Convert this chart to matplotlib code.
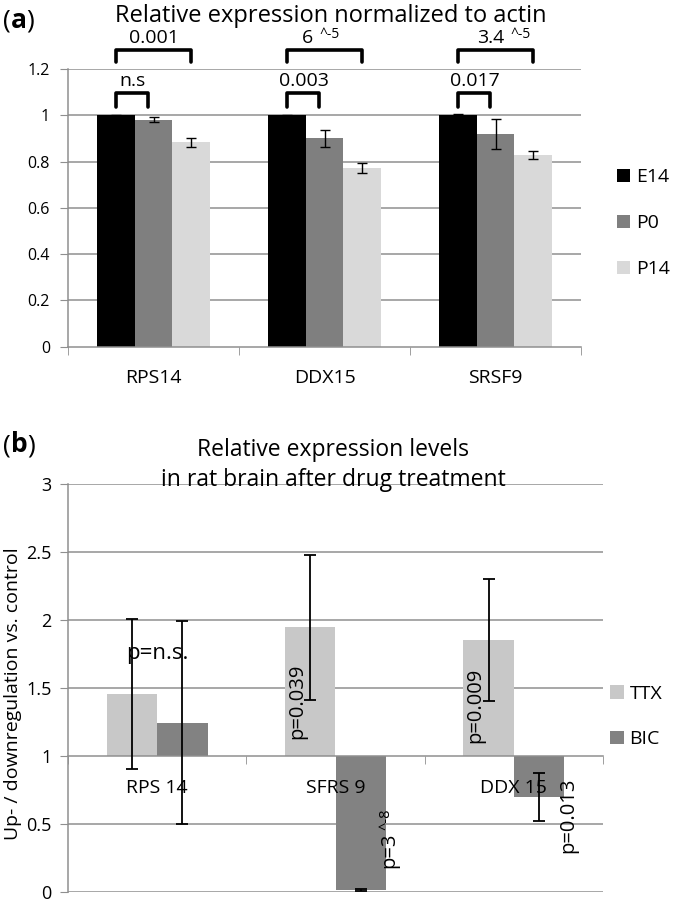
import numpy as np
import matplotlib
matplotlib.use('Agg')
import matplotlib.pyplot as plt
from matplotlib.ticker import FixedLocator, FuncFormatter

plt.rcParams['font.family'] = ['Open Sans', 'DejaVu Sans']

# ---- panel (a): relative expression normalized to actin ----
genes_a = ['RPS14', 'DDX15', 'SRSF9']
stages = ['E14', 'P0', 'P14']
e14 = [1.0, 1.0, 1.0]
e14_err = [0.002, 0.003, 0.006]
p0 = [0.98, 0.90, 0.92]
p0_err = [0.011, 0.035, 0.065]
p14 = [0.883, 0.771, 0.828]
p14_err = [0.018, 0.021, 0.016]
pval_near = ['n.s', '0.003', '0.017']     # E14 vs P0
pval_far = ['0.001', '6', '3.4']          # E14 vs P14
pval_far_exp = ['', '^-5', '^-5']

# ---- panel (b): drug treatment ----
genes_b = ['RPS 14', 'SFRS 9', 'DDX 15']
treatments = ['TTX', 'BIC']
ttx = [1.455, 1.945, 1.85]
ttx_err = [0.555, 0.535, 0.45]
bic = [1.245, 0.012, 0.695]
bic_err = [0.745, 0.006, 0.175]
pval_ttx = ['p=n.s.', 'p=0.039', 'p=0.009']
pval_bic = ['', 'p=3', 'p=0.013']
pval_bic_exp = ['', '^-8', '']

W, H = 673, 905
fig = plt.figure(figsize=(W / 100, H / 100), dpi=100)


def fbox(l, t, r, b):
    return [l / W, 1 - b / H, (r - l) / W, (b - t) / H]


def fx(x):
    return x / W


def fy(y):
    return 1 - y / H


GRID = '#8f8f8f'
FS = 14

# ================= panel (a) =================
ax1 = fig.add_axes(fbox(68, 69, 581, 346.7))
x = np.arange(len(genes_a))
bw = 0.222
cols_a = ['#000000', '#7f7f7f', '#d9d9d9']
series_a = [(e14, e14_err), (p0, p0_err), (p14, p14_err)]
handles_a = []
for k, (vals, errs) in enumerate(series_a):
    xs = x + (k - 1) * bw
    b = ax1.bar(xs, vals, bw, color=cols_a[k], label=stages[k], zorder=1)
    handles_a.append(b)
    ax1.errorbar(xs, vals, yerr=errs, fmt='none', ecolor='black',
                 elinewidth=1, capsize=3.5, capthick=1, zorder=3)

ax1.set_xlim(-0.5, 2.5)
ax1.set_ylim(0, 1.2)
for yv in np.arange(0.2, 1.21, 0.2):
    ax1.axhline(yv, color=GRID, lw=1.1, zorder=0)
ax1.yaxis.set_major_locator(FixedLocator(np.arange(0, 1.21, 0.2)))
ax1.yaxis.set_major_formatter(FuncFormatter(lambda v, p: '%g' % round(v, 1)))
ax1.set_xticks(x)
ax1.set_xticklabels(genes_a)
ax1.xaxis.set_minor_locator(FixedLocator([-0.5, 0.5, 1.5, 2.5]))
ax1.tick_params(axis='x', which='major', length=0, pad=16, labelsize=FS)
ax1.tick_params(axis='x', which='minor', length=6, color=GRID, direction='out')
ax1.tick_params(axis='y', length=6, color=GRID, labelsize=11.5, pad=7)
for s in ['top', 'right']:
    ax1.spines[s].set_visible(False)
ax1.spines['left'].set_color(GRID)
ax1.spines['bottom'].set_color(GRID)
ax1.spines['left'].set_linewidth(1.1)
ax1.spines['bottom'].set_linewidth(1.1)


def bracket(ax, x0, x1, y0, y1):
    ax.plot([x0, x0, x1, x1], [y0, y1, y1, y0], color='black', lw=2.6,
            solid_joinstyle='round', solid_capstyle='round',
            clip_on=False, zorder=4)


far_dx = [0.0, -0.067, 0.05]
for i in range(len(genes_a)):
    bracket(ax1, i - bw, i - 0.03, 1.035, 1.096)
    bracket(ax1, i - bw, i + bw, 1.23, 1.282)
    ax1.text(i - 0.12, 1.15, pval_near[i], ha='center', va='center',
             fontsize=14, clip_on=False)
    if pval_far_exp[i]:
        ax1.text(i + far_dx[i], 1.333, pval_far[i], ha='right', va='center',
                 fontsize=14, clip_on=False)
        ax1.text(i + far_dx[i] + 0.035, 1.35, pval_far_exp[i], ha='left',
                 va='center', fontsize=10, clip_on=False)
    else:
        ax1.text(i + far_dx[i], 1.333, pval_far[i], ha='center', va='center',
                 fontsize=14, clip_on=False)

ax1.legend(handles=handles_a, labels=stages, loc='upper left',
           bbox_to_anchor=(fx(617), fy(168)), bbox_transform=fig.transFigure,
           frameon=False, fontsize=FS, handlelength=0.65, handleheight=0.65,
           handletextpad=0.35, labelspacing=1.45, borderpad=0, borderaxespad=0)

fig.text(fx(331), fy(16), 'Relative expression normalized to actin',
         ha='center', va='center', fontsize=17)
fig.text(fx(3), fy(21), '(', ha='left', va='center', fontsize=19)
fig.text(fx(11), fy(20), 'a', ha='left', va='center', fontsize=19,
         fontweight='bold')
fig.text(fx(26), fy(21), ')', ha='left', va='center', fontsize=19)

# ================= panel (b) =================
ax2 = fig.add_axes(fbox(68, 484, 603, 891.7))
ax2.spines['bottom'].set_position(('data', 1))
xb = np.arange(len(genes_b))
bwb = 0.284
cols_b = ['#c8c8c8', '#828282']
handles_b = []
for k, (vals, errs) in enumerate([(ttx, ttx_err), (bic, bic_err)]):
    xs = xb + (k - 0.5) * bwb
    vals = np.array(vals)
    b = ax2.bar(xs, vals - 1, bwb, bottom=1, color=cols_b[k],
                label=treatments[k], zorder=1)
    handles_b.append(b)
    ax2.errorbar(xs, vals, yerr=errs, fmt='none', ecolor='black',
                 elinewidth=1.3, capsize=4.5, capthick=1.3, zorder=3)

ax2.set_xlim(-0.5, 2.5)
ax2.set_ylim(0, 3)
for yv in np.arange(0, 3.01, 0.5):
    if yv != 1:
        ax2.axhline(yv, color=GRID, lw=1.1, zorder=0)
ax2.yaxis.set_major_locator(FixedLocator(np.arange(0, 3.01, 0.5)))
ax2.yaxis.set_major_formatter(FuncFormatter(lambda v, p: '%g' % v))
ax2.set_xticks(xb)
ax2.set_xticklabels(genes_b)
ax2.xaxis.set_minor_locator(FixedLocator([-0.5, 0.5, 1.5, 2.5]))
ax2.tick_params(axis='x', which='major', length=0, pad=17, labelsize=FS)
ax2.tick_params(axis='x', which='minor', length=6, color=GRID, direction='out')
ax2.tick_params(axis='y', length=6, color=GRID, labelsize=13, pad=6)
for s in ['top', 'right']:
    ax2.spines[s].set_visible(False)
ax2.spines['left'].set_color(GRID)
ax2.spines['bottom'].set_color(GRID)
ax2.spines['left'].set_linewidth(1.1)
ax2.spines['bottom'].set_linewidth(1.1)

# p-value labels
ax2.text(0, 1.755, pval_ttx[0], ha='center', va='center', fontsize=16,
         zorder=4)
for i in (1, 2):
    ax2.text(i - 0.216, 1.40 - 0.03 * (i - 1), pval_ttx[i], ha='center',
             va='center', rotation=90, fontsize=14.5, zorder=4)
ax2.text(1 + 0.30, 0.306, pval_bic[1], ha='center', va='center',
         rotation=90, fontsize=14.5, zorder=4)
ax2.text(1 + 0.285, 0.53, pval_bic_exp[1], ha='center', va='center',
         rotation=90, fontsize=10.5, zorder=4)
ax2.text(2 + 0.306, 0.564, pval_bic[2], ha='center', va='center',
         rotation=90, fontsize=14.5, zorder=4)

ax2.legend(handles=handles_b, labels=treatments, loc='upper left',
           bbox_to_anchor=(fx(610), fy(685)), bbox_transform=fig.transFigure,
           frameon=False, fontsize=FS, handlelength=0.7, handleheight=0.7,
           handletextpad=0.3, labelspacing=1.4, borderpad=0, borderaxespad=0)

fig.text(fx(333), fy(450), 'Relative expression levels', ha='center',
         va='center', fontsize=16.5)
fig.text(fx(333), fy(480), 'in rat brain after drug treatment', ha='center',
         va='center', fontsize=16.5)
fig.text(fx(13), fy(694), 'Up- / downregulation vs. control', ha='center',
         va='center', rotation=90, fontsize=FS)
fig.text(fx(3), fy(446), '(', ha='left', va='center', fontsize=19)
fig.text(fx(11), fy(445), 'b', ha='left', va='center', fontsize=19,
         fontweight='bold')
fig.text(fx(27), fy(446), ')', ha='left', va='center', fontsize=19)

fig.savefig('out.png', dpi=100)
